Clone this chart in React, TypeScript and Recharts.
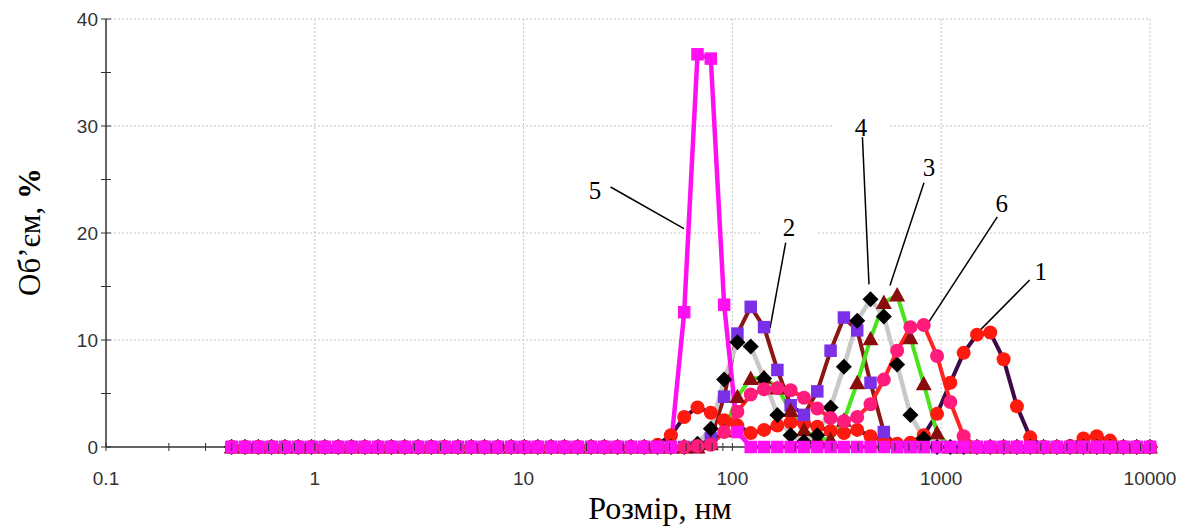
import React from 'react'
import {
  LineChart,
  Line,
  XAxis,
  YAxis,
  CartesianGrid,
  ReferenceLine,
  ReferenceDot,
} from 'recharts'

// Zetasizer size classes, nm
const SIZES = [
  0.4, 0.4632, 0.5365, 0.6213, 0.7195, 0.8332, 0.9649, 1.117, 1.294, 1.499,
  1.736, 2.01, 2.328, 2.696, 3.122, 3.615, 4.187, 4.849, 5.615, 6.503,
  7.531, 8.721, 10.1, 11.7, 13.54, 15.69, 18.17, 21.04, 24.36, 28.21,
  32.67, 37.84, 43.82, 50.75, 58.77, 68.06, 78.82, 91.28, 105.7, 122.4,
  141.8, 164.2, 190.1, 220.2, 255.0, 295.3, 342.0, 396.1, 458.7, 531.2,
  615.1, 712.4, 825.0, 955.4, 1106, 1281, 1484, 1718, 1990, 2305,
  2669, 3091, 3580, 4145, 4801, 5560, 6439, 7456, 8635, 10000,
]

// volume, % (curves 1..6)
const CURVE_1 = [
  0, 0, 0, 0, 0, 0, 0, 0, 0, 0,
  0, 0, 0, 0, 0, 0, 0, 0, 0, 0,
  0, 0, 0, 0, 0, 0, 0, 0, 0, 0,
  0, 0, 0.2, 1.1, 2.8, 3.7, 3.2, 2.5, 2.0, 1.3,
  1.6, 2.0, 2.3, 2.2, 1.9, 1.5, 1.3, 1.6, 1.0, 0.6,
  0.3, 0.4, 1.1, 3.1, 6.0, 8.8, 10.5, 10.7, 8.2, 3.8,
  0.9, 0, 0, 0.1, 0.8, 1.0, 0.6, 0, 0, 0,
]
const CURVE_2 = [
  0, 0, 0, 0, 0, 0, 0, 0, 0, 0,
  0, 0, 0, 0, 0, 0, 0, 0, 0, 0,
  0, 0, 0, 0, 0, 0, 0, 0, 0, 0,
  0, 0, 0, 0, 0, 0, 0.8, 4.7, 10.6, 13.1,
  11.2, 7.2, 3.9, 3.0, 5.2, 9.0, 12.1, 10.9, 6.0, 1.4,
  0, 0, 0, 0, 0, 0, 0, 0, 0, 0,
  0, 0, 0, 0, 0, 0, 0, 0, 0, 0,
]
const CURVE_3 = [
  0, 0, 0, 0, 0, 0, 0, 0, 0, 0,
  0, 0, 0, 0, 0, 0, 0, 0, 0, 0,
  0, 0, 0, 0, 0, 0, 0, 0, 0, 0,
  0, 0, 0, 0, 0, 0, 0.3, 1.5, 4.7, 6.4,
  6.5, 5.5, 3.4, 1.6, 0.8, 0.7, 2.5, 6.0, 10.1, 13.5,
  14.2, 10.2, 5.9, 1.3, 0, 0, 0, 0, 0, 0,
  0, 0, 0, 0, 0, 0, 0, 0, 0, 0,
]
const CURVE_4 = [
  0, 0, 0, 0, 0, 0, 0, 0, 0, 0,
  0, 0, 0, 0, 0, 0, 0, 0, 0, 0,
  0, 0, 0, 0, 0, 0, 0, 0, 0, 0,
  0, 0, 0, 0, 0, 0.3, 1.7, 6.3, 9.8, 9.4,
  6.4, 3.0, 1.1, 0.5, 1.1, 3.7, 7.5, 11.8, 13.8, 12.2,
  7.7, 3.0, 0.8, 0, 0, 0, 0, 0, 0, 0,
  0, 0, 0, 0, 0, 0, 0, 0, 0, 0,
]
const CURVE_5 = [
  0, 0, 0, 0, 0, 0, 0, 0, 0, 0,
  0, 0, 0, 0, 0, 0, 0, 0, 0, 0,
  0, 0, 0, 0, 0, 0, 0, 0, 0, 0,
  0, 0, 0, 0, 12.6, 36.7, 36.3, 13.3, 1.4, 0,
  0, 0, 0, 0, 0, 0, 0, 0, 0, 0,
  0, 0, 0, 0, 0, 0, 0, 0, 0, 0,
  0, 0, 0, 0, 0, 0, 0, 0, 0, 0,
]
const CURVE_6 = [
  0, 0, 0, 0, 0, 0, 0, 0, 0, 0,
  0, 0, 0, 0, 0, 0, 0, 0, 0, 0,
  0, 0, 0, 0, 0, 0, 0, 0, 0, 0,
  0, 0, 0, 0, 0, 0.1, 0.2, 1.4, 3.3, 4.9,
  5.4, 5.5, 5.3, 4.6, 3.6, 2.7, 2.4, 2.8, 4.0, 6.3,
  9.0, 11.2, 11.4, 8.5, 4.2, 1.0, 0, 0, 0, 0,
  0, 0, 0, 0, 0, 0, 0, 0, 0, 0,
]

const X_MAJOR = [0.1, 1, 10, 100, 1000, 10000]
const X_MINOR = [
  0.2, 0.3, 0.4, 0.5, 0.6, 0.7, 0.8, 0.9,
  2, 3, 4, 5, 6, 7, 8, 9,
  20, 30, 40, 50, 60, 70, 80, 90,
  200, 300, 400, 500, 600, 700, 800, 900,
  2000, 3000, 4000, 5000, 6000, 7000, 8000, 9000,
]
const Y_MAJOR = [0, 10, 20, 30, 40]
const Y_MINOR = [5, 15, 25, 35]

// curve number labels with leader lines (data coordinates)
const CALLOUTS = [
  { text: '5', tx: 22, ty: 24.0, from: [26.1, 24.3], to: [58.6, 20.4], box: false },
  { text: '2', tx: 186.6, ty: 20.5, from: [180, 19.1], to: [151.4, 11.1], box: true },
  { text: '4', tx: 413, ty: 29.9, from: [419, 29.2], to: [451, 15.2], box: true },
  { text: '3', tx: 874, ty: 26.1, from: [827, 24.7], to: [568.5, 15.1], box: false },
  { text: '6', tx: 1949, ty: 22.8, from: [1857, 21.5], to: [827, 11.0], box: false },
  { text: '1', tx: 2996, ty: 16.4, from: [2653, 15.6], to: [1463, 10.5], box: false },
]

const data = SIZES.map((size, i) => ({
  size,
  c1: CURVE_1[i],
  c2: CURVE_2[i],
  c3: CURVE_3[i],
  c4: CURVE_4[i],
  c5: CURVE_5[i],
  c6: CURVE_6[i],
}))

type Shape = 'circle' | 'square' | 'triangle' | 'diamond'

const marker = (shape: Shape, fill: string, size: number) => (props: any) => {
  const { cx, cy, index } = props
  const key = `m-${index}`
  if (cx == null || cy == null) return <g key={key} />
  const h = size / 2
  if (shape === 'circle') return <circle key={key} cx={cx} cy={cy} r={h} fill={fill} />
  if (shape === 'square')
    return <rect key={key} x={cx - h} y={cy - h} width={size} height={size} fill={fill} />
  if (shape === 'diamond')
    return (
      <polygon
        key={key}
        points={`${cx},${cy - h} ${cx + h},${cy} ${cx},${cy + h} ${cx - h},${cy}`}
        fill={fill}
      />
    )
  return (
    <polygon
      key={key}
      points={`${cx},${cy - h} ${cx + h},${cy + h * 0.8} ${cx - h},${cy + h * 0.8}`}
      fill={fill}
    />
  )
}

// draw order: 1, 2, 3, 4, 6, 5 (magenta on top)
const SERIES = [
  { key: 'c1', stroke: '#3e0a48', width: 4, shape: 'circle' as Shape, fill: '#ff1a10', size: 14 },
  { key: 'c2', stroke: '#8b1616', width: 4, shape: 'square' as Shape, fill: '#7b2fe6', size: 12.5 },
  { key: 'c3', stroke: '#4be21e', width: 4, shape: 'triangle' as Shape, fill: '#8a0c0c', size: 16 },
  { key: 'c4', stroke: '#c8c8c8', width: 4.5, shape: 'diamond' as Shape, fill: '#000000', size: 16 },
  { key: 'c6', stroke: '#ff2424', width: 4, shape: 'circle' as Shape, fill: '#ff1c7c', size: 14 },
  { key: 'c5', stroke: '#ff10f0', width: 4.5, shape: 'square' as Shape, fill: '#ff10f0', size: 12.5 },
]

const tickFont = '"Liberation Sans", Arial, sans-serif'
const serif = '"Liberation Serif", "Times New Roman", serif'

const XTick = (props: any) => {
  const { x, y, payload } = props
  const v = payload.value
  const major = X_MAJOR.includes(v)
  return (
    <g>
      <line x1={x} x2={x} y1={y - 4} y2={y + 4} stroke="#333" strokeWidth={1} />
      {major && (
        <text x={x} y={y + 38} textAnchor="middle" fontSize={19} fontFamily={tickFont} fill="#333">
          {String(v)}
        </text>
      )}
    </g>
  )
}

const YTick = (props: any) => {
  const { x, y, payload } = props
  const v = payload.value
  const major = Y_MAJOR.includes(v)
  return (
    <g>
      <line x1={x - 5} x2={x + 5} y1={y} y2={y} stroke="#333" strokeWidth={1} />
      {major && (
        <text x={x - 8} y={y} dy="0.35em" textAnchor="end" fontSize={19} fontFamily={tickFont} fill="#333">
          {String(v)}
        </text>
      )}
    </g>
  )
}

export default function App() {
  return (
    <div style={{ width: 1186, height: 528, background: '#fff' }}>
      <style>{'body{margin:0;background:#fff}'}</style>
      <LineChart
        width={1186}
        height={528}
        data={data}
        margin={{ top: 19, right: 36, left: 46, bottom: 41 }}
      >
        <CartesianGrid
          stroke="#c4c4c4"
          strokeDasharray="2 2"
          verticalCoordinatesGenerator={({ offset }: any) =>
            X_MAJOR.slice(1).map((v) => offset.left + (offset.width * (Math.log10(v) + 1)) / 5)
          }
          horizontalCoordinatesGenerator={({ offset }: any) =>
            Y_MAJOR.slice(1).map((v) => offset.top + offset.height * (1 - v / 40))
          }
        />
        <XAxis
          dataKey="size"
          type="number"
          scale="log"
          domain={[0.1, 10000]}
          ticks={[...X_MAJOR, ...X_MINOR].sort((a, b) => a - b)}
          interval={0}
          height={40}
          tickSize={0}
          tickMargin={0}
          tickLine={false}
          axisLine={{ stroke: '#333', strokeWidth: 1.5 }}
          tick={<XTick />}
          label={{
            content: () => (
              <text x={660} y={519} textAnchor="middle" fontSize={32} fontFamily={serif} fill="#000">
                Розмір, нм
              </text>
            ),
          }}
        />
        <YAxis
          type="number"
          domain={[0, 40]}
          ticks={[...Y_MAJOR, ...Y_MINOR].sort((a, b) => a - b)}
          interval={0}
          width={60}
          tickSize={0}
          tickMargin={0}
          tickLine={false}
          axisLine={{ stroke: '#333', strokeWidth: 1.5 }}
          tick={<YTick />}
          label={{
            content: () => (
              <text
                x={40}
                y={232}
                transform="rotate(-90 40 232)"
                textAnchor="middle"
                fontSize={31}
                fontFamily={serif}
                fill="#000"
              >
                Об’єм, <tspan fontWeight="bold">%</tspan>
              </text>
            ),
          }}
        />
        {SERIES.map((s) => (
          <Line
            key={s.key}
            dataKey={s.key}
            type="linear"
            stroke={s.stroke}
            strokeWidth={s.width}
            dot={marker(s.shape, s.fill, s.size)}
            activeDot={false}
            isAnimationActive={false}
          />
        ))}
        {CALLOUTS.map((c) => (
          <ReferenceDot
            key={`t-${c.text}`}
            x={c.tx}
            y={c.ty}
            r={0}
            ifOverflow="visible"
            shape={(p: any) => (
              <g>
                {c.box && <rect x={p.cx - 28} y={p.cy - 10} width={56} height={20} fill="#fff" />}
                <text
                  x={p.cx}
                  y={p.cy}
                  dy="0.35em"
                  textAnchor="middle"
                  fontSize={25}
                  fontFamily={serif}
                  fill="#000"
                >
                  {c.text}
                </text>
              </g>
            )}
          />
        ))}
        {CALLOUTS.map((c) => (
          <ReferenceLine
            key={`l-${c.text}`}
            segment={[
              { x: c.from[0], y: c.from[1] },
              { x: c.to[0], y: c.to[1] },
            ]}
            stroke="#000"
            strokeWidth={1.5}
            ifOverflow="visible"
          />
        ))}
      </LineChart>
    </div>
  )
}
